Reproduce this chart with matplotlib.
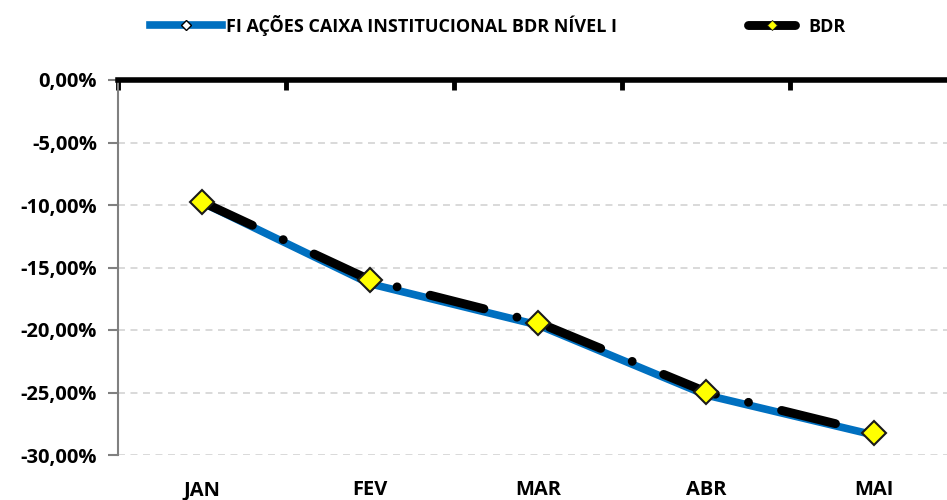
import matplotlib.pyplot as plt
from matplotlib.lines import Line2D
from matplotlib.ticker import FuncFormatter, FixedLocator

plt.rcParams['font.family'] = ['Open Sans', 'DejaVu Sans']
plt.rcParams['lines.scale_dashes'] = False

meses = ['JAN', 'FEV', 'MAR', 'ABR', 'MAI']
fundo = [-9.8, -16.3, -19.6, -25.2, -28.4]   # FI AÇÕES CAIXA INSTITUCIONAL BDR NÍVEL I (%)
bdr = [-9.75, -16.0, -19.4, -24.95, -28.25]  # BDR (%)
nome_fundo = 'FI AÇÕES CAIXA INSTITUCIONAL BDR NÍVEL I'
nome_bdr = 'BDR'

AZUL = '#0070C0'
AMARELO = '#FFFF00'

fig = plt.figure(figsize=(9.47, 5.0), dpi=100)
ax = fig.add_axes([118 / 947, 1 - 455 / 500, 1 - 118 / 947, (455 - 80) / 500])

x = list(range(len(meses)))

# linha do fundo (azul, por baixo)
ax.plot(x, fundo, color=AZUL, lw=5.5, solid_capstyle='butt', zorder=3,
        marker='D', ms=7, mfc='white', mec='black', mew=1.0)
# linha do BDR (traço-ponto preto com marcadores amarelos)
ax.plot(x, bdr, color='black', lw=6.4, linestyle=(0, (40, 24.5, 0.01, 24.5)),
        dash_capstyle='round', zorder=4)
ax.plot(x, bdr, linestyle='none', marker='D', ms=12.5, mfc=AMARELO,
        mec='#1a1a1a', mew=1.5, zorder=5)

# eixo y
yt = [0, -5, -10, -15, -20, -25, -30]
ax.yaxis.set_major_locator(FixedLocator(yt))
ax.yaxis.set_major_formatter(FuncFormatter(lambda v, p: ('%.2f%%' % v).replace('.', ',').replace('-0,00', '0,00')))
ax.tick_params(axis='y', direction='out', length=7, width=1.5, color='#808080',
               labelsize=14.5, pad=8)
for lab in ax.get_yticklabels():
    lab.set_fontweight('bold')

ax.yaxis.grid(True, color='#D9D9D9', linestyle=(0, (5, 4)), lw=1.4, zorder=0)
ax.set_axisbelow(True)

# eixo x: rótulos embaixo, marcas no topo (eixo cruza em 0)
ax.set_xticks(x)
ax.set_xticklabels(meses, fontweight='bold', fontsize=14.5)
ax.tick_params(axis='x', which='major', length=0, pad=18)
ax.set_xticks([i - 0.5 for i in range(6)], minor=True)
ax.tick_params(axis='x', which='minor', top=True, bottom=False, direction='in',
               length=7, width=3.5, color='black')

# limites depois dos ticks (set_xticks expande a vista)
ax.set_xlim(-0.5, -0.5 + (947 - 118) / 168)
ax.set_ylim(-30, 0)

for s in ['bottom', 'right']:
    ax.spines[s].set_visible(False)
ax.spines['top'].set_color('black')
ax.spines['top'].set_linewidth(4)
ax.spines['top'].set_zorder(6)
ax.spines['left'].set_color('#808080')
ax.spines['left'].set_linewidth(1.5)

h_fundo = Line2D([], [], color=AZUL, lw=5.5, marker='D', ms=5, mfc='white', mec='black', mew=1.0)
h_bdr = Line2D([], [], color='black', lw=6.4, solid_capstyle='round', marker='D', ms=5,
               mfc=AMARELO, mec='#1a1a1a', mew=0.6)
fig.legend([h_fundo], [nome_fundo], loc='center left', bbox_to_anchor=(0.1415, 0.95),
           frameon=False, handlelength=4.0, handletextpad=0.2,
           prop={'weight': 'bold', 'size': 13})
fig.legend([h_bdr], [nome_bdr], loc='center left', bbox_to_anchor=(0.773, 0.947),
           frameon=False, handlelength=2.6, handletextpad=0.75,
           prop={'weight': 'bold', 'size': 13})

fig.savefig('out.png', dpi=100)
